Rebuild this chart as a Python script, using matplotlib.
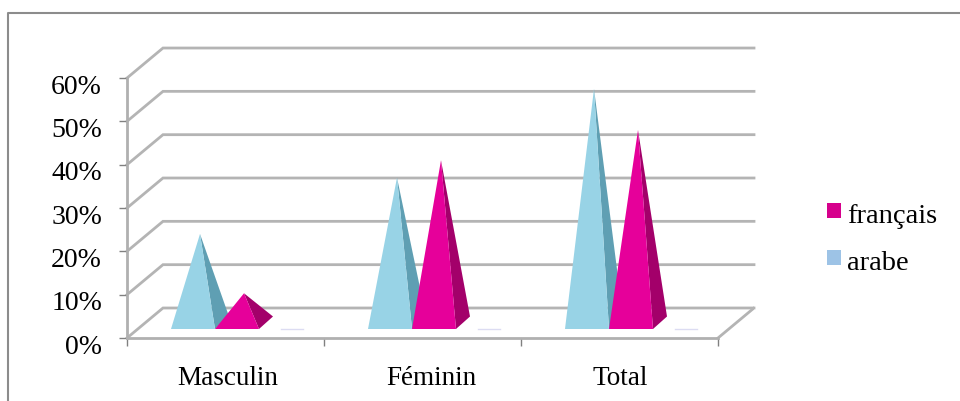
#!/usr/bin/env python3
# plot.py

import matplotlib
matplotlib.use("Agg")
import matplotlib.pyplot as plt
from matplotlib.lines import Line2D
from matplotlib.patches import Polygon, Rectangle
from matplotlib.transforms import ScaledTranslation

categories = ["Masculin", "Féminin", "Total"]
arabe = [20.5, 33.5, 54.0]
francais = [6.8, 37.5, 44.5]
empty = [0, 0, 0]
y_ticks = [0, 10, 20, 30, 40, 50, 60]
y_labels = ["0%", "10%", "20%", "30%", "40%", "50%", "60%"]

W, H = 960, 401
GRID = "#b4b4b4"
AXIS = "#b0b0b0"
PX_X = 197.0  # pixels per category
PX_Y = 4.333  # pixels per percent
DEPTH_X = 36 / PX_X
DEPTH_Y = 30 / PX_Y
BAR_W = 44 / PX_X
BAR_DX = 14 / PX_X
BAR_DY = 12.5 / PX_Y
BASE_Y = 9 / PX_Y
LABEL_DX = [2, 9, 1]  # the category labels sit a little right of centre


def pyramid(ax, left, value, light, dark):
    right = left + BAR_W
    apex = (left + BAR_W / 2 + BAR_DX / 2, BASE_Y + BAR_DY / 2 + value)
    fl, fr = (left, BASE_Y), (right, BASE_Y)
    br = (right + BAR_DX, BASE_Y + BAR_DY)
    ax.add_patch(Polygon([fr, br, apex], fc=dark, ec="none", zorder=3))
    ax.add_patch(Polygon([fl, fr, apex], fc=light, ec="none", zorder=3))


def plot(ax):
    ax.set_xlim(0, 3 + DEPTH_X)
    ax.set_ylim(0, 60 + DEPTH_Y)

    # back wall and floor
    for v in y_ticks:
        ax.plot([0, DEPTH_X, 3 + DEPTH_X], [v, v + DEPTH_Y, v + DEPTH_Y], clip_on=False,
                color=GRID, lw=2, zorder=1, solid_joinstyle="miter")
    ax.plot([3, 3 + DEPTH_X], [0, DEPTH_Y], color=GRID, lw=2, zorder=1)

    for i in range(len(categories)):
        start = i + 44 / PX_X
        pyramid(ax, start, arabe[i], "#98d3e6", "#5f9fb3")
        pyramid(ax, start + BAR_W, francais[i], "#e6009a", "#a3006a")
        ax.plot([start + 2 * BAR_W + 22 / PX_X, start + 3 * BAR_W], [BASE_Y + empty[i]] * 2,
                color="#dcdcf2", lw=1, zorder=2)

    for s in ["top", "right"]:
        ax.spines[s].set_visible(False)
    ax.spines["left"].set_bounds(0, 60)
    for s in ["left", "bottom"]:
        ax.spines[s].set_color(AXIS)
        ax.spines[s].set_linewidth(2)
    ax.spines["bottom"].set_bounds(0, 3)

    ax.set_yticks(y_ticks, y_labels)
    ax.set_xticks([0, 1, 2, 3], [])
    ax.tick_params(axis="both", color="#808080", length=6, width=1)
    ax.tick_params(axis="y", labelsize=20, pad=12)
    shift = ScaledTranslation(0, -4.5 / 72, ax.figure.dpi_scale_trans)
    for label in ax.get_yticklabels():
        label.set_transform(label.get_transform() + shift)
    for i, name in enumerate(categories):
        ax.annotate(name, (i + 0.5, 0), xytext=(LABEL_DX[i], -47), textcoords="offset pixels",
                    ha="center", va="baseline", fontsize=19.5, annotation_clip=False)


def main():
    plt.rcParams["font.family"] = ["Liberation Serif", "DejaVu Serif"]
    fig = plt.figure(figsize=(W / 100, H / 100), dpi=100)
    # outer frame, cut off at the bottom and right of the picture
    fig.add_artist(Line2D([8 / W, 8 / W, 1], [0, 1 - 13 / H, 1 - 13 / H], transform=fig.transFigure,
                          color="#8c8c8c", lw=1.5))

    ax = fig.add_axes([127 / W, 1 - 338 / H, (3 * PX_X + 36) / W, (60 * PX_Y + 30) / H])
    ax.patch.set_visible(False)
    plot(ax)

    fig.add_artist(Rectangle((827 / W, 1 - 218 / H), 14 / W, 15 / H, transform=fig.transFigure,
                             fc="#d6008c", ec="none"))
    fig.add_artist(Rectangle((827 / W, 1 - 265 / H), 14 / W, 15 / H, transform=fig.transFigure,
                             fc="#9dc3e6", ec="none"))
    fig.text(847 / W, 1 - 223 / H, "français", fontsize=20.5, ha="left", va="baseline")
    fig.text(847 / W, 1 - 270 / H, "arabe", fontsize=20.5, ha="left", va="baseline")

    fig.savefig("out.png", dpi=100)


if __name__ == "__main__":
    main()
